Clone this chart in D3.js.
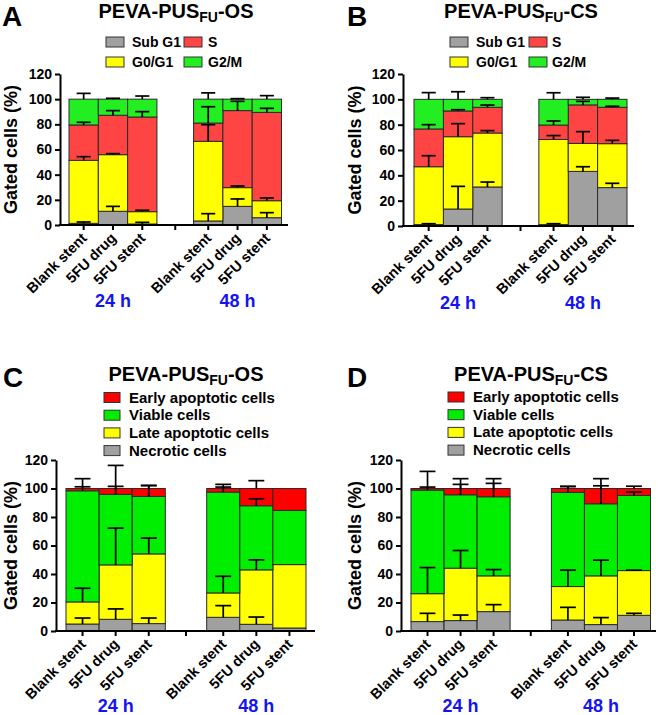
<!DOCTYPE html>
<html><head><meta charset="utf-8">
<script src="https://cdn.jsdelivr.net/npm/d3@7/dist/d3.min.js"></script>
<style>
body{margin:0;background:#fff}
svg{display:block}
text{font-family:Arial,"Liberation Sans",Helvetica,sans-serif;font-weight:bold;fill:#000}
</style>
</head><body>
<svg id="chart" width="661" height="715"></svg>
<script>
// ---------- DATA ----------
const categories = ["Blank stent", "5FU drug", "5FU stent"];
const timeLabels = ["24 h", "48 h"];
const yTicks = [0, 20, 40, 60, 80, 100, 120];
const cycleSeries = ["Sub G1", "G0/G1", "S", "G2/M"];            // bottom -> top
const apoSeries = ["Necrotic cells", "Late apoptotic cells", "Viable cells", "Early apoptotic cells"]; // bottom -> top

// Panel A: PEVA-PUS_FU-OS, cell cycle (24h x3, 48h x3)
const osSubG1 = [1.3, 10.9, 0.8, 3.2, 14.8, 5.8];
const osSubG1Sd = [1.1, 3.9, 1.3, 5.8, 5.9, 4.0];
const osG0G1 = [50.1, 45.0, 9.8, 63.3, 14.9, 13.5];
const osG0G1Sd = [2.9, 0.8, 1.1, 13.2, 1.3, 2.2];
const osS = [28.1, 31.3, 75.2, 14.5, 61.2, 70.2];
const osSSd = [2.1, 3.7, 4.3, 13.0, 7.4, 3.2];
const osG2M = [20.5, 12.8, 14.2, 19.0, 9.1, 10.5];
const osG2MSd = [4.6, 0.7, 2.5, 5.0, 0.4, 2.8];

// Panel B: PEVA-PUS_FU-CS, cell cycle
const csSubG1 = [1.1, 13.4, 30.8, 1.1, 43.1, 30.3];
const csSubG1Sd = [0.7, 17.9, 3.9, 0.7, 3.7, 3.4];
const csG0G1 = [45.7, 57.1, 42.6, 67.2, 22.1, 34.7];
const csG0G1Sd = [8.7, 10.3, 1.9, 3.1, 9.3, 2.6];
const csS = [29.8, 20.3, 20.3, 11.4, 30.4, 28.7];
const csSSd = [3.4, 1.0, 1.8, 3.2, 2.8, 0.8];
const csG2M = [23.4, 9.2, 6.3, 20.3, 4.4, 6.3];
const csG2MSd = [5.3, 6.0, 1.3, 5.2, 1.6, 1.0];

// Panel C: PEVA-PUS_FU-OS, apoptosis
const osNecrotic = [4.9, 8.2, 5.2, 9.6, 4.7, 2.1];
const osNecroticSd = [4.2, 7.3, 3.9, 8.2, 5.1, 0];
const osLate = [15.5, 38.2, 48.9, 17.1, 38.2, 44.5];
const osLateSd = [9.6, 25.8, 11.1, 11.7, 7.0, 0];
const osViable = [78.0, 49.5, 40.3, 70.8, 45.0, 38.0];
const osViableSd = [2.8, 5.6, 7.8, 3.5, 4.9, 0];
const osEarly = [1.6, 4.1, 5.6, 2.5, 12.1, 15.4];
const osEarlySd = [6.9, 16.2, 2.0, 2.9, 5.5, 0];

// Panel D: PEVA-PUS_FU-CS, apoptosis
const csNecrotic = [6.6, 7.3, 13.6, 7.7, 4.5, 11.0];
const csNecroticSd = [5.8, 3.9, 4.9, 8.9, 4.9, 1.4];
const csLate = [19.6, 36.8, 25.1, 23.5, 34.2, 31.4];
const csLateSd = [18.3, 12.4, 4.4, 11.5, 11.0, 0.3];
const csViable = [72.7, 51.5, 55.5, 66.1, 50.6, 52.7];
const csViableSd = [2.1, 7.3, 9.4, 4.2, 12.6, 2.4];
const csEarly = [1.1, 4.4, 5.8, 2.7, 10.7, 4.9];
const csEarlySd = [12.0, 6.9, 6.9, 1.4, 6.9, 1.6];

// ---------- STYLE / LAYOUT ----------
const cycleColors = ["#a0a0a0", "#ffff00", "#ff4444", "#22ee22"];
const apoColors = ["#a0a0a0", "#ffff00", "#00ee00", "#ff0000"];
const groupBlue = "#1414f0";

const panels = [
  {letter:"A", lx:2, ly:26, suffix:"-OS", tx:176, ty:18,
   axisX:60, axisEnd:288, barL:69, barR:281.5, yZero:225, yTop:74, yTitleX:11, groupY:307,
   series:cycleSeries, colors:cycleColors,
   values:[osSubG1, osG0G1, osS, osG2M], sds:[osSubG1Sd, osG0G1Sd, osSSd, osG2MSd],
   legend:{type:"grid", x:106, rows:[37,57], sw:18, sh:10, col2:78, tOff:26, tOff2:24, fs:14,
           order:[[0,2],[1,3]]}},
  {letter:"B", lx:347, ly:26, suffix:"-CS", tx:521, ty:18,
   axisX:403, axisEnd:634, barL:414, barR:627, yZero:226, yTop:74, yTitleX:355, groupY:309,
   series:cycleSeries, colors:cycleColors,
   values:[csSubG1, csG0G1, csS, csG2M], sds:[csSubG1Sd, csG0G1Sd, csSSd, csG2MSd],
   legend:{type:"grid", x:450, rows:[37,57], sw:18, sh:10, col2:79, tOff:26, tOff2:23, fs:14,
           order:[[0,2],[1,3]]}},
  {letter:"C", lx:3, ly:387, suffix:"-OS", tx:186, ty:381,
   axisX:56, axisEnd:315, barL:66, barR:306, yZero:631, yTop:460, yTitleX:11, groupY:712,
   series:apoSeries, colors:apoColors,
   values:[osNecrotic, osLate, osViable, osEarly], sds:[osNecroticSd, osLateSd, osViableSd, osEarlySd],
   legend:{type:"list", x:104, y0:392.5, step:17.7, sw:16, sh:10, tOff:25, fs:15, order:[3,2,1,0]}},
  {letter:"D", lx:347, ly:387, suffix:"-CS", tx:531, ty:381,
   axisX:401, axisEnd:656, barL:411, barR:650.5, yZero:631, yTop:460, yTitleX:355, groupY:712,
   series:apoSeries, colors:apoColors,
   values:[csNecrotic, csLate, csViable, csEarly], sds:[csNecroticSd, csLateSd, csViableSd, csEarlySd],
   legend:{type:"list", x:448, y0:392, step:17.7, sw:16, sh:10, tOff:25, fs:15, order:[3,2,1,0]}}
];

const svg = d3.select("#chart");
const groupGap = 1.25; // gap between time groups, in bar widths
const slotOf = i => (i < 3 ? i : i + groupGap);

panels.forEach(p => {
  const g = svg.append("g");
  const y = d3.scaleLinear().domain([0, 120]).range([p.yZero, p.yTop]);
  const x = d3.scaleLinear().domain([-0.5, 5.5 + groupGap]).range([p.barL, p.barR]);
  const bw = x(0.5) - x(-0.5);

  const rows = d3.range(6).map(i => {
    const r = {idx: i};
    p.series.forEach((s, k) => r[s] = p.values[k][i]);
    return r;
  });
  const stacked = d3.stack().keys(p.series)(rows);

  stacked.forEach((layer, k) => {
    g.append("g").selectAll("rect").data(layer).join("rect")
      .attr("x", d => x(slotOf(d.data.idx)) - bw / 2)
      .attr("width", bw)
      .attr("y", d => y(d[1]))
      .attr("height", d => y(d[0]) - y(d[1]))
      .attr("fill", p.colors[k])
      .attr("stroke", "#2a2a2a")
      .attr("stroke-width", 1);
  });

  const capHalf = bw * 0.24;
  stacked.forEach((layer, k) => {
    layer.forEach(d => {
      const sd = p.sds[k][d.data.idx];
      if (!sd) return;
      const cx = x(slotOf(d.data.idx));
      const top = y(d[1] + sd);
      g.append("line").attr("x1", cx).attr("x2", cx).attr("y1", y(d[1])).attr("y2", top)
        .attr("stroke", "#000").attr("stroke-width", 1.7);
      g.append("line").attr("x1", cx - capHalf).attr("x2", cx + capHalf).attr("y1", top).attr("y2", top)
        .attr("stroke", "#000").attr("stroke-width", 1.7);
    });
  });

  const yAxis = d3.axisLeft(y).tickValues(yTicks).tickSize(5).tickSizeOuter(0).tickPadding(3);
  const ya = g.append("g").attr("transform", `translate(${p.axisX},0)`).call(yAxis);
  ya.select(".domain").attr("stroke", "#000").attr("stroke-width", 2);
  ya.selectAll(".tick line").attr("stroke", "#000").attr("stroke-width", 2);
  ya.selectAll(".tick text").attr("font-size", 14).attr("font-family", null);

  g.append("line").attr("x1", p.axisX - 1).attr("x2", p.axisEnd).attr("y1", p.yZero).attr("y2", p.yZero)
    .attr("stroke", "#000").attr("stroke-width", 2);
  const tickSlots = d3.range(6).map(slotOf).concat([2.5 + groupGap / 2]);
  g.append("g").selectAll("line").data(tickSlots).join("line")
    .attr("x1", d => x(d)).attr("x2", d => x(d))
    .attr("y1", p.yZero).attr("y2", p.yZero + 5)
    .attr("stroke", "#000").attr("stroke-width", 2);

  d3.range(6).forEach(i => {
    const cx = x(slotOf(i));
    g.append("text")
      .attr("transform", `translate(${cx + 4},${p.yZero + 14}) rotate(-45)`)
      .attr("text-anchor", "end")
      .attr("font-size", 14.5)
      .text(categories[i % 3]);
  });

  timeLabels.forEach((t, gi) => {
    g.append("text")
      .attr("x", x(slotOf(gi * 3 + 1))).attr("y", p.groupY)
      .attr("text-anchor", "middle").attr("font-size", 18)
      .style("fill", groupBlue).text(t);
  });

  g.append("text")
    .attr("transform", `translate(${p.yTitleX},${(p.yZero + p.yTop) / 2}) rotate(-90)`)
    .attr("text-anchor", "middle").attr("dominant-baseline", "central")
    .attr("font-size", 18).text("Gated cells (%)");

  g.append("text").attr("x", p.lx).attr("y", p.ly).attr("font-size", 28).text(p.letter);

  const tt = g.append("text").attr("x", p.tx).attr("y", p.ty).attr("text-anchor", "middle").attr("font-size", 20);
  tt.append("tspan").text("PEVA-PUS");
  tt.append("tspan").attr("font-size", 14).attr("dy", 4).text("FU");
  tt.append("tspan").attr("dy", -4).text(p.suffix);

  const L = p.legend;
  const lg = g.append("g");
  if (L.type === "grid") {
    L.order.forEach((row, ri) => {
      row.forEach((k, ci) => {
        const sx = L.x + ci * L.col2;
        lg.append("rect").attr("x", sx).attr("y", L.rows[ri]).attr("width", L.sw).attr("height", L.sh)
          .attr("fill", p.colors[k]).attr("stroke", "#333").attr("stroke-width", 1);
        lg.append("text").attr("x", sx + (ci === 0 ? L.tOff : L.tOff2)).attr("y", L.rows[ri] + L.sh)
          .attr("font-size", L.fs).text(p.series[k]);
      });
    });
  } else {
    L.order.forEach((k, ri) => {
      const ry = L.y0 + ri * L.step;
      lg.append("rect").attr("x", L.x).attr("y", ry).attr("width", L.sw).attr("height", L.sh)
        .attr("fill", p.colors[k]).attr("stroke", "#333").attr("stroke-width", 1);
      lg.append("text").attr("x", L.x + L.tOff).attr("y", ry + L.sh)
        .attr("font-size", L.fs).text(p.series[k]);
    });
  }
});
</script>
</body></html>
